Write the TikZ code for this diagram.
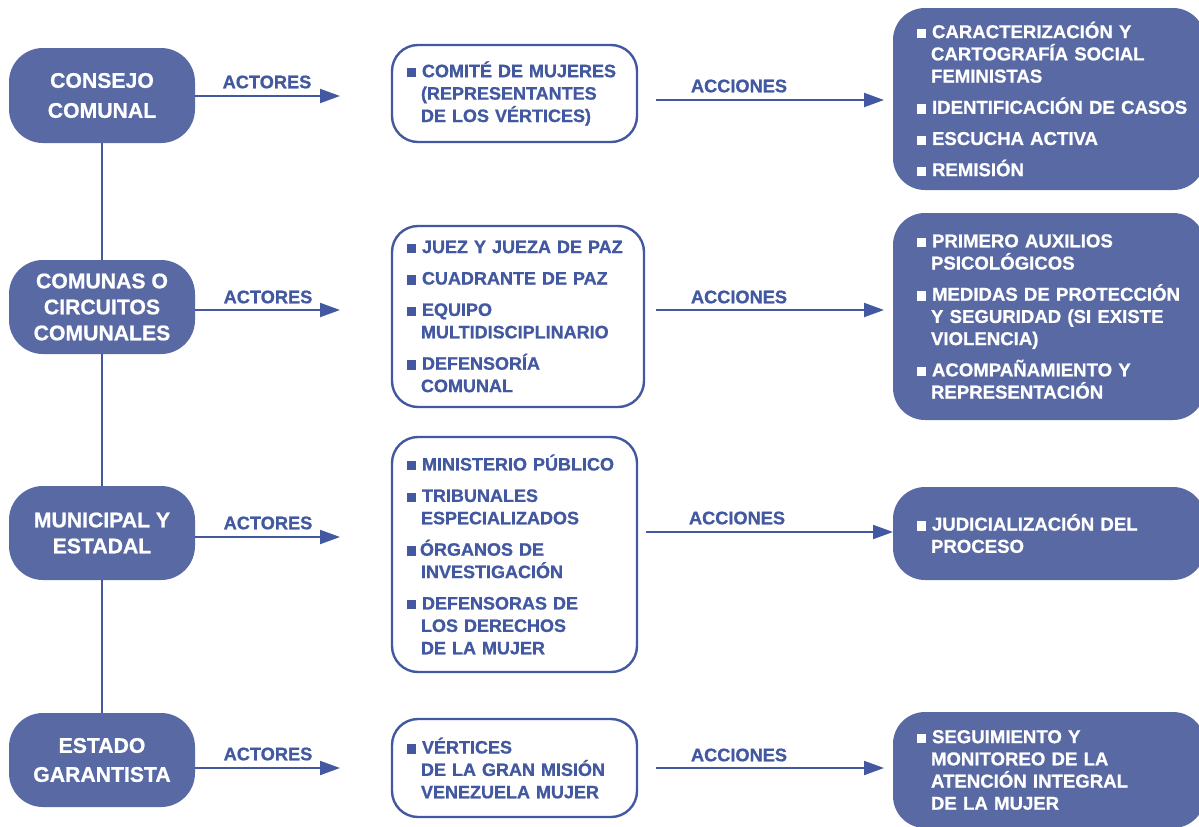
\documentclass[tikz,border=0pt]{standalone}
\usepackage{fontspec}
\setmainfont{Liberation Sans}[BoldFeatures={FakeBold=0.9}]
\usetikzlibrary{arrows.meta,backgrounds}
\definecolor{fillblue}{RGB}{88,105,164}
\definecolor{lineblue}{RGB}{66,88,160}
\newcommand{\bu}{\rule{4.7pt}{4.7pt}\hspace{2.8pt}}
\newcommand{\itm}[1]{\mbox{\bu#1}}
\newcommand{\itmn}[1]{\mbox{\rule{4.7pt}{4.7pt}\hspace{1.8pt}#1}}
\newcommand{\contl}[1]{\mbox{\hspace*{7pt}#1}}
\begin{document}
\begin{tikzpicture}[x=0.5pt,y=-0.5pt,
 lbox/.style={fill=fillblue, draw=none, rounded corners=17pt, text=white, align=center,
   minimum width=93pt, inner sep=0pt, font=\bfseries\fontsize{10.6}{13}\selectfont},
 mbox/.style={draw=lineblue, fill=white, line width=1.2pt, rounded corners=13pt, text=lineblue, align=left,
   inner xsep=7.5pt, inner ysep=0pt, font=\bfseries\fontsize{9}{11.2}\selectfont},
 rbox/.style={fill=fillblue, draw=none, rounded corners=16pt, text=white, align=left,
   inner xsep=12pt, inner ysep=0pt, text width=132pt, font=\bfseries\fontsize{9.3}{11.1}\selectfont},
 lbl/.style={text=lineblue, inner sep=0pt, font=\bfseries\fontsize{9.1}{11}\selectfont},
 arr/.style={draw=lineblue, line width=1pt, -{Triangle[length=10pt,width=7pt]}},
 vline/.style={draw=lineblue, line width=1pt},
]
\useasboundingbox (0,0) rectangle (1199,826);
\clip (0,0) rectangle (1199,826);

% left column
\node[lbox, minimum height=47.5pt] (L1) at (102,95.5) {CONSEJO\\[2pt]COMUNAL};
\node[lbox, minimum height=47pt] (L2) at (102,307) {COMUNAS O\\CIRCUITOS\\COMUNALES};
\node[lbox, minimum height=47pt] (L3) at (102,533) {MUNICIPAL Y\\ESTADAL};
\node[lbox, minimum height=47pt] (L4) at (102,760) {ESTADO\\[1.5pt]GARANTISTA};

% middle column
\node[mbox, text width=107.5pt, minimum height=48.5pt] (M1) at (514.5,93.5)
 {\itm{COMITÉ DE MUJERES}\\\contl{(REPRESENTANTES}\\\contl{DE LOS VÉRTICES)}};
\node[mbox, text width=111pt, minimum height=90.5pt] (M2) at (518,316.5)
 {\itm{JUEZ Y JUEZA DE PAZ}\\[4.5pt]\itm{CUADRANTE DE PAZ}\\[4.5pt]\itm{EQUIPO}\\\contl{MULTIDISCIPLINARIO}\\[4.5pt]\itm{DEFENSORÍA}\\\contl{COMUNAL}};
\node[mbox, text width=107.5pt, minimum height=117.5pt] (M3) at (514.5,554.5)
 {\itm{MINISTERIO PÚBLICO}\\[4.5pt]\itm{TRIBUNALES}\\\contl{ESPECIALIZADOS}\\[4.5pt]\itmn{ÓRGANOS DE}\\\contl{INVESTIGACIÓN}\\[4.5pt]\itm{DEFENSORAS DE}\\\contl{LOS DERECHOS}\\\contl{DE LA MUJER}};
\node[mbox, text width=107.5pt, minimum height=49pt] (M4) at (514.5,768)
 {\itm{VÉRTICES}\\\contl{DE LA GRAN MISIÓN}\\\contl{VENEZUELA MUJER}};

% right column
\node[rbox, minimum height=91pt] (R1) at (1049,99)
 {\itm{CARACTERIZACIÓN Y}\\\contl{CARTOGRAFÍA SOCIAL}\\\contl{FEMINISTAS}\\[4.5pt]\itm{IDENTIFICACIÓN DE CASOS}\\[4.5pt]\itm{ESCUCHA ACTIVA}\\[4.5pt]\itm{REMISIÓN}};
\node[rbox, minimum height=103.5pt] (R2) at (1049,316.5)
 {\itm{PRIMERO AUXILIOS}\\\contl{PSICOLÓGICOS}\\[4.5pt]\itm{MEDIDAS DE PROTECCIÓN}\\\contl{Y SEGURIDAD (SI EXISTE}\\\contl{VIOLENCIA)}\\[4.5pt]\itm{ACOMPAÑAMIENTO Y}\\\contl{REPRESENTACIÓN}};
\node[rbox, minimum height=46.5pt] (R3) at (1049,533.5)
 {\itm{JUDICIALIZACIÓN DEL}\\\contl{PROCESO}};
\node[rbox, minimum height=58pt] (R4) at (1049,770)
 {\itm{SEGUIMIENTO Y}\\\contl{MONITOREO DE LA}\\\contl{ATENCIÓN INTEGRAL}\\\contl{DE LA MUJER}};

% ACTORES arrows
\coordinate (ta1) at (340,96);
\coordinate (ta2) at (340,310);
\coordinate (ta3) at (340,537);
\coordinate (ta4) at (340,768);
\draw[arr] (L1.east |- ta1) -- (ta1);
\draw[arr] (L2.east |- ta2) -- (ta2);
\draw[arr] (L3.east |- ta3) -- (ta3);
\draw[arr] (L4.east |- ta4) -- (ta4);
\node[lbl] (la1) at (267,82) {ACTORES};
\node[lbl] (la2) at (268,297) {ACTORES};
\node[lbl] (la3) at (268,523) {ACTORES};
\node[lbl] (la4) at (268,754) {ACTORES};

% ACCIONES arrows
\coordinate (tc1) at (884,100);
\coordinate (tc2) at (884,310);
\coordinate (tc3) at (893,532);
\coordinate (tc4) at (884,768);
\draw[arr] (M1.east |- tc1) ++(18,0) -- (tc1);
\draw[arr] (M2.east |- tc2) ++(11,0) -- (tc2);
\draw[arr] (M3.east |- tc3) ++(8,0) -- (tc3);
\draw[arr] (M4.east |- tc4) ++(18,0) -- (tc4);
\node[lbl] (lc1) at (739,86) {ACCIONES};
\node[lbl] (lc2) at (739,297) {ACCIONES};
\node[lbl] (lc3) at (737,518) {ACCIONES};
\node[lbl] (lc4) at (739,755) {ACCIONES};

\begin{scope}[on background layer]
\fill[white] (0,0) rectangle (1199,826);
\draw[vline] (L1.south) -- (L4.north);
\end{scope}
\end{tikzpicture}
\end{document}
